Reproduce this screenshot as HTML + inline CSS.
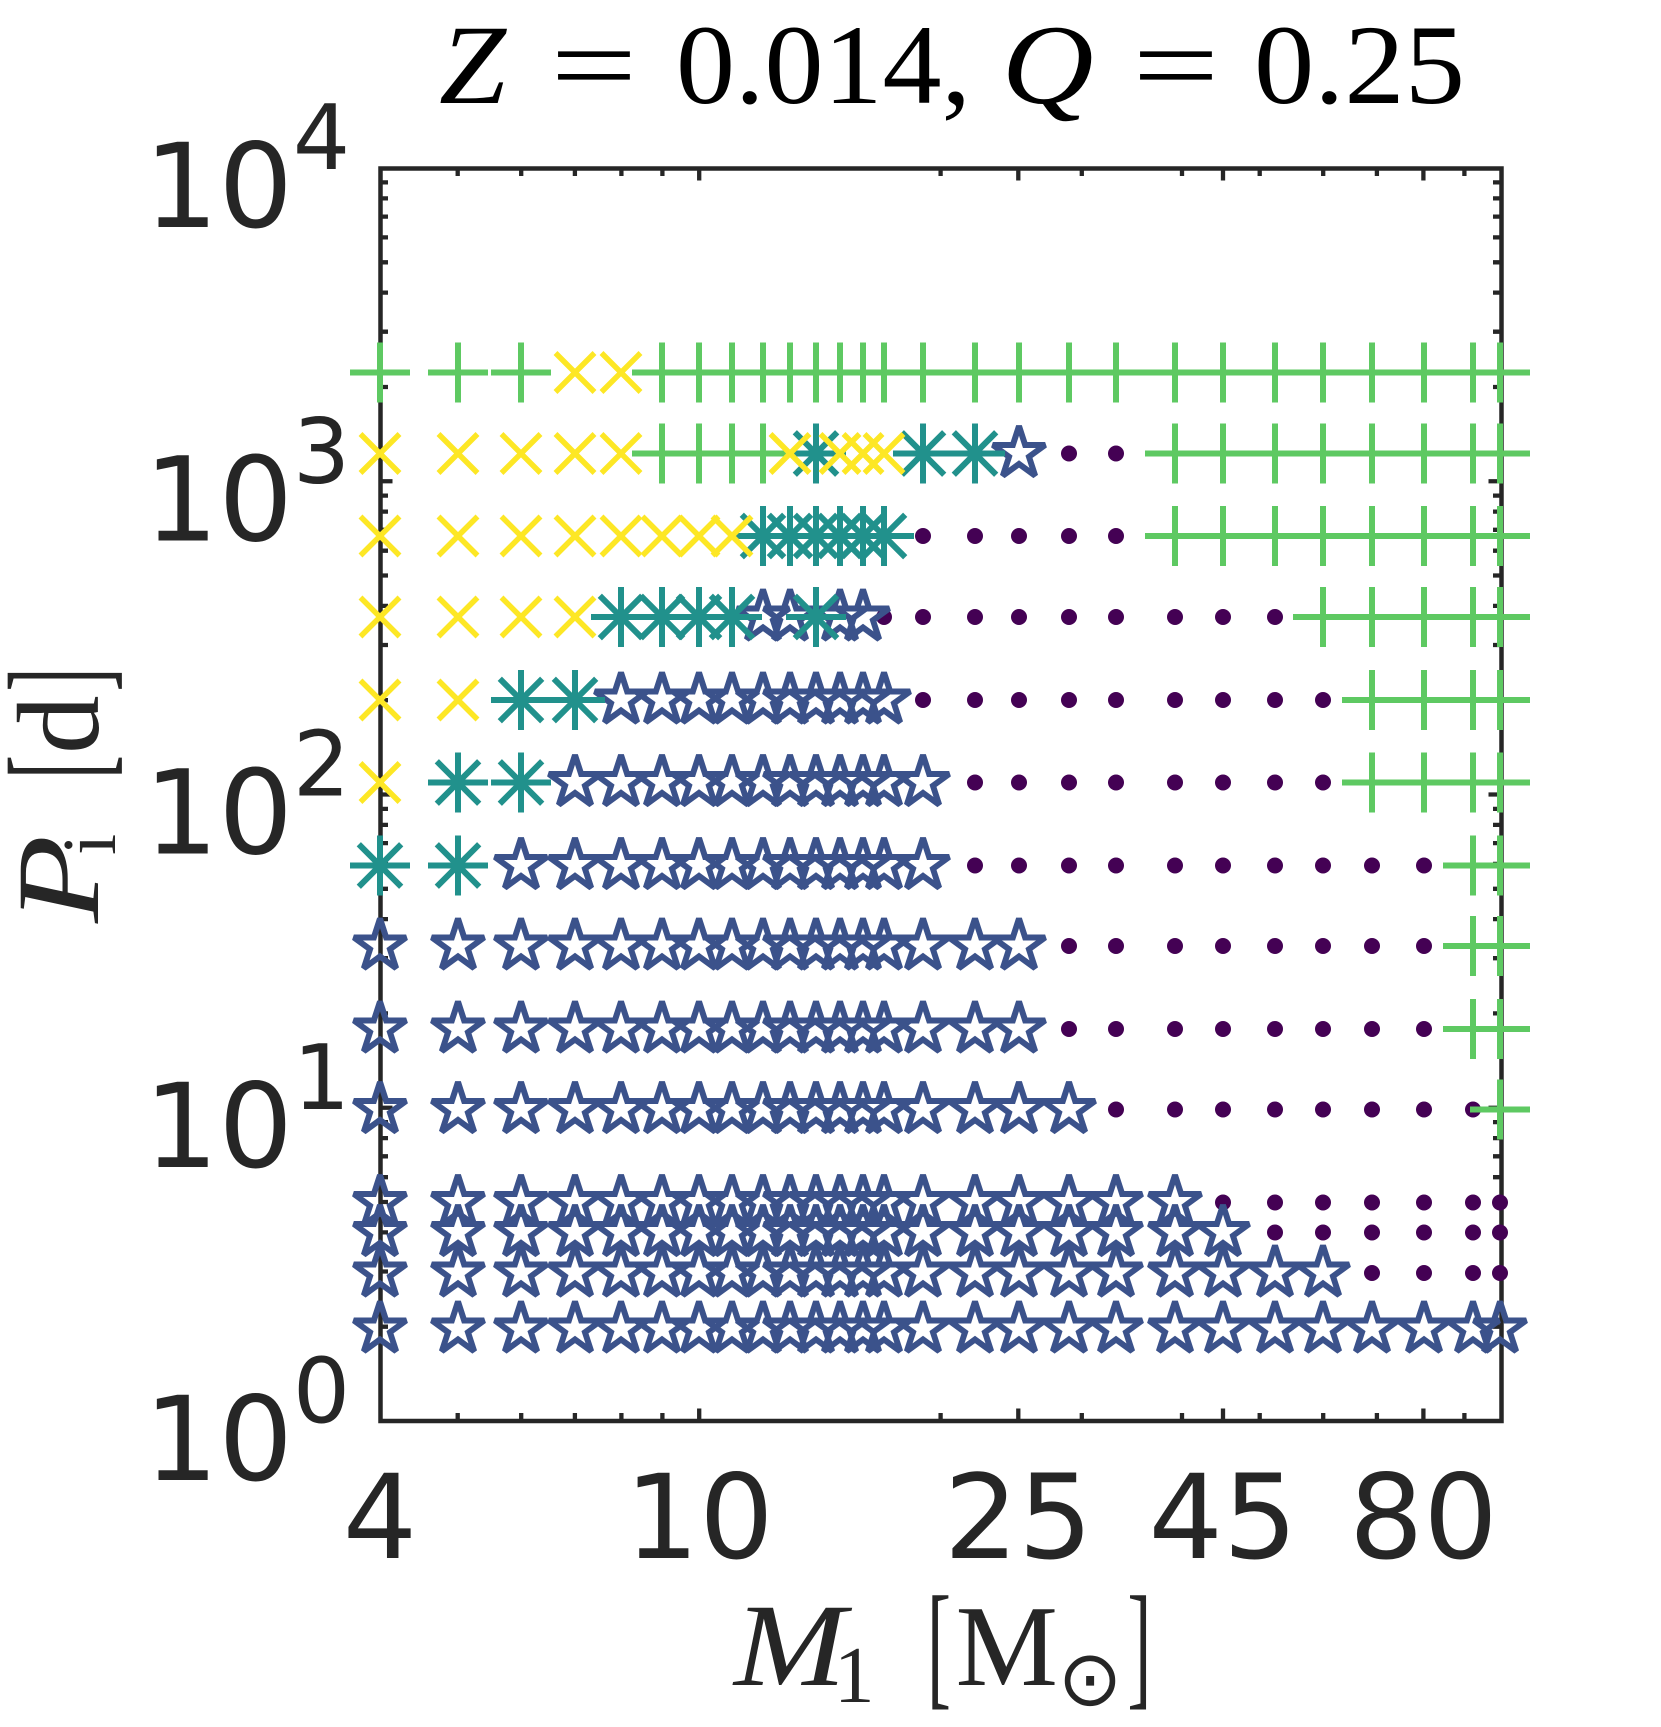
<!DOCTYPE html>
<html><head><meta charset="utf-8"><style>html,body{margin:0;padding:0;background:#fff}svg{display:block}</style></head><body>
<svg width="1661" height="1727" viewBox="0 0 1661 1727" xmlns="http://www.w3.org/2000/svg">
<rect width="1661" height="1727" fill="#fff"/>
<defs>
<path id="P" d="M-30 0H30M0-30V30" stroke="#5ec962" stroke-width="6" fill="none"/>
<path id="X" d="M-19.5-19.5L19.5 19.5M-19.5 19.5L19.5-19.5" stroke="#fde725" stroke-width="5.5" fill="none"/>
<path id="A" d="M-30 0H30M0-30V30M-21.2-21.2L21.2 21.2M-21.2 21.2L21.2-21.2" stroke="#21918c" stroke-width="6" fill="none"/>
<path id="S" d="M0-27.5L6.16-8.48L26.15-8.5L9.98 3.24L16.16 22.25L0 10.5L-16.16 22.25L-9.98 3.24L-26.15-8.5L-6.16-8.48Z" fill="none" stroke="#3b528b" stroke-width="6" stroke-linejoin="miter" stroke-miterlimit="2"/>
<circle id="D" r="8" fill="#440154"/>
</defs>

<!-- axes box -->
<rect x="380.5" y="168.5" width="1121" height="1252.5" fill="none" stroke="#262626" stroke-width="4.5"/>
<!-- ticks -->
<path fill="none" stroke="#262626" stroke-width="4.3" d="
M380 1107.75h12.5M380 794.5h12.5M380 481.25h12.5
M1501 1107.75h-12.5M1501 794.5h-12.5M1501 481.25h-12.5
M380 1326.7h8M380 1271.5h8M380 1232.4h8M380 1202h8M380 1177.2h8M380 1156.3h8M380 1138.1h8M380 1122.1h8
M380 1013.4h8M380 958.2h8M380 919.1h8M380 888.8h8M380 863.9h8M380 843.1h8M380 824.9h8M380 808.9h8
M380 700.2h8M380 645h8M380 605.9h8M380 575.5h8M380 550.7h8M380 529.8h8M380 511.6h8M380 495.6h8
M380 387h8M380 331.7h8M380 292.6h8M380 262.3h8M380 237.4h8M380 216.6h8M380 198.4h8M380 182.4h8
M1501 1326.7h-8M1501 1271.5h-8M1501 1232.4h-8M1501 1202h-8M1501 1177.2h-8M1501 1156.3h-8M1501 1138.1h-8M1501 1122.1h-8
M1501 1013.4h-8M1501 958.2h-8M1501 919.1h-8M1501 888.8h-8M1501 863.9h-8M1501 843.1h-8M1501 824.9h-8M1501 808.9h-8
M1501 700.2h-8M1501 645h-8M1501 605.9h-8M1501 575.5h-8M1501 550.7h-8M1501 529.8h-8M1501 511.6h-8M1501 495.6h-8
M1501 387h-8M1501 331.7h-8M1501 292.6h-8M1501 262.3h-8M1501 237.4h-8M1501 216.6h-8M1501 198.4h-8M1501 182.4h-8
M699.2 1421v-12.5M1018.3 1421v-12.5M1223 1421v-12.5M1423.4 1421v-12.5
M699.2 168v12.5M1018.3 168v12.5M1223 168v12.5M1423.4 168v12.5
M457.7 1421v-8M521.2 1421v-8M574.9 1421v-8M621.4 1421v-8M662.4 1421v-8M940.6 1421v-8M1081.8 1421v-8M1182 1421v-8M1259.7 1421v-8M1323.2 1421v-8M1376.9 1421v-8M1464.4 1421v-8
M457.7 168v8M521.2 168v8M574.9 168v8M621.4 168v8M662.4 168v8M940.6 168v8M1081.8 168v8M1182 168v8M1259.7 168v8M1323.2 168v8M1376.9 168v8M1464.4 168v8
"/>

<!-- D: dots -->
<g transform="translate(0 453.5)"><use href="#D" x="1069"/><use href="#D" x="1116"/></g>
<g transform="translate(0 536)"><use href="#D" x="923"/><use href="#D" x="975"/><use href="#D" x="1019"/><use href="#D" x="1069"/><use href="#D" x="1116"/></g>
<g transform="translate(0 617)"><use href="#D" x="884"/><use href="#D" x="923"/><use href="#D" x="975"/><use href="#D" x="1019"/><use href="#D" x="1069"/><use href="#D" x="1116"/><use href="#D" x="1175"/><use href="#D" x="1223"/><use href="#D" x="1275"/></g>
<g transform="translate(0 700)"><use href="#D" x="923"/><use href="#D" x="975"/><use href="#D" x="1019"/><use href="#D" x="1069"/><use href="#D" x="1116"/><use href="#D" x="1175"/><use href="#D" x="1223"/><use href="#D" x="1275"/><use href="#D" x="1323"/></g>
<g transform="translate(0 782.5)"><use href="#D" x="975"/><use href="#D" x="1019"/><use href="#D" x="1069"/><use href="#D" x="1116"/><use href="#D" x="1175"/><use href="#D" x="1223"/><use href="#D" x="1275"/><use href="#D" x="1323"/></g>
<g transform="translate(0 865.5)"><use href="#D" x="975"/><use href="#D" x="1019"/><use href="#D" x="1069"/><use href="#D" x="1116"/><use href="#D" x="1175"/><use href="#D" x="1223"/><use href="#D" x="1275"/><use href="#D" x="1323"/><use href="#D" x="1372"/><use href="#D" x="1424"/></g>
<g transform="translate(0 946)"><use href="#D" x="1069"/><use href="#D" x="1116"/><use href="#D" x="1175"/><use href="#D" x="1223"/><use href="#D" x="1275"/><use href="#D" x="1323"/><use href="#D" x="1372"/><use href="#D" x="1424"/></g>
<g transform="translate(0 1029)"><use href="#D" x="1069"/><use href="#D" x="1116"/><use href="#D" x="1175"/><use href="#D" x="1223"/><use href="#D" x="1275"/><use href="#D" x="1323"/><use href="#D" x="1372"/><use href="#D" x="1424"/></g>
<g transform="translate(0 1109.5)"><use href="#D" x="1116"/><use href="#D" x="1175"/><use href="#D" x="1223"/><use href="#D" x="1275"/><use href="#D" x="1323"/><use href="#D" x="1372"/><use href="#D" x="1424"/><use href="#D" x="1473"/></g>
<g transform="translate(0 1202.5)"><use href="#D" x="1223"/><use href="#D" x="1275"/><use href="#D" x="1323"/><use href="#D" x="1372"/><use href="#D" x="1424"/><use href="#D" x="1473"/><use href="#D" x="1500"/></g>
<g transform="translate(0 1232.5)"><use href="#D" x="1275"/><use href="#D" x="1323"/><use href="#D" x="1372"/><use href="#D" x="1424"/><use href="#D" x="1473"/><use href="#D" x="1500"/></g>
<g transform="translate(0 1273)"><use href="#D" x="1372"/><use href="#D" x="1424"/><use href="#D" x="1473"/><use href="#D" x="1500"/></g>

<!-- S: stars -->
<g transform="translate(0 453.5)"><use href="#S" x="1019"/></g>
<g transform="translate(0 617)"><use href="#S" x="763"/><use href="#S" x="790"/><use href="#S" x="840"/><use href="#S" x="863"/></g>
<g transform="translate(0 700)"><use href="#S" x="621"/><use href="#S" x="662"/><use href="#S" x="699"/><use href="#S" x="732"/><use href="#S" x="763"/><use href="#S" x="790"/><use href="#S" x="816"/><use href="#S" x="840"/><use href="#S" x="863"/><use href="#S" x="884"/></g>
<g transform="translate(0 782.5)"><use href="#S" x="575"/><use href="#S" x="621"/><use href="#S" x="662"/><use href="#S" x="699"/><use href="#S" x="732"/><use href="#S" x="763"/><use href="#S" x="790"/><use href="#S" x="816"/><use href="#S" x="840"/><use href="#S" x="863"/><use href="#S" x="884"/><use href="#S" x="923"/></g>
<g transform="translate(0 865.5)"><use href="#S" x="521"/><use href="#S" x="575"/><use href="#S" x="621"/><use href="#S" x="662"/><use href="#S" x="699"/><use href="#S" x="732"/><use href="#S" x="763"/><use href="#S" x="790"/><use href="#S" x="816"/><use href="#S" x="840"/><use href="#S" x="863"/><use href="#S" x="884"/><use href="#S" x="923"/></g>
<g transform="translate(0 946)"><use href="#S" x="380"/><use href="#S" x="458"/><use href="#S" x="521"/><use href="#S" x="575"/><use href="#S" x="621"/><use href="#S" x="662"/><use href="#S" x="699"/><use href="#S" x="732"/><use href="#S" x="763"/><use href="#S" x="790"/><use href="#S" x="816"/><use href="#S" x="840"/><use href="#S" x="863"/><use href="#S" x="884"/><use href="#S" x="923"/><use href="#S" x="975"/><use href="#S" x="1019"/></g>
<g transform="translate(0 1029)"><use href="#S" x="380"/><use href="#S" x="458"/><use href="#S" x="521"/><use href="#S" x="575"/><use href="#S" x="621"/><use href="#S" x="662"/><use href="#S" x="699"/><use href="#S" x="732"/><use href="#S" x="763"/><use href="#S" x="790"/><use href="#S" x="816"/><use href="#S" x="840"/><use href="#S" x="863"/><use href="#S" x="884"/><use href="#S" x="923"/><use href="#S" x="975"/><use href="#S" x="1019"/></g>
<g transform="translate(0 1109.5)"><use href="#S" x="380"/><use href="#S" x="458"/><use href="#S" x="521"/><use href="#S" x="575"/><use href="#S" x="621"/><use href="#S" x="662"/><use href="#S" x="699"/><use href="#S" x="732"/><use href="#S" x="763"/><use href="#S" x="790"/><use href="#S" x="816"/><use href="#S" x="840"/><use href="#S" x="863"/><use href="#S" x="884"/><use href="#S" x="923"/><use href="#S" x="975"/><use href="#S" x="1019"/><use href="#S" x="1069"/></g>
<g transform="translate(0 1202.5)"><use href="#S" x="380"/><use href="#S" x="458"/><use href="#S" x="521"/><use href="#S" x="575"/><use href="#S" x="621"/><use href="#S" x="662"/><use href="#S" x="699"/><use href="#S" x="732"/><use href="#S" x="763"/><use href="#S" x="790"/><use href="#S" x="816"/><use href="#S" x="840"/><use href="#S" x="863"/><use href="#S" x="884"/><use href="#S" x="923"/><use href="#S" x="975"/><use href="#S" x="1019"/><use href="#S" x="1069"/><use href="#S" x="1116"/><use href="#S" x="1175"/></g>
<g transform="translate(0 1232.5)"><use href="#S" x="380"/><use href="#S" x="458"/><use href="#S" x="521"/><use href="#S" x="575"/><use href="#S" x="621"/><use href="#S" x="662"/><use href="#S" x="699"/><use href="#S" x="732"/><use href="#S" x="763"/><use href="#S" x="790"/><use href="#S" x="816"/><use href="#S" x="840"/><use href="#S" x="863"/><use href="#S" x="884"/><use href="#S" x="923"/><use href="#S" x="975"/><use href="#S" x="1019"/><use href="#S" x="1069"/><use href="#S" x="1116"/><use href="#S" x="1175"/><use href="#S" x="1223"/></g>
<g transform="translate(0 1273)"><use href="#S" x="380"/><use href="#S" x="458"/><use href="#S" x="521"/><use href="#S" x="575"/><use href="#S" x="621"/><use href="#S" x="662"/><use href="#S" x="699"/><use href="#S" x="732"/><use href="#S" x="763"/><use href="#S" x="790"/><use href="#S" x="816"/><use href="#S" x="840"/><use href="#S" x="863"/><use href="#S" x="884"/><use href="#S" x="923"/><use href="#S" x="975"/><use href="#S" x="1019"/><use href="#S" x="1069"/><use href="#S" x="1116"/><use href="#S" x="1175"/><use href="#S" x="1223"/><use href="#S" x="1275"/><use href="#S" x="1323"/></g>
<g transform="translate(0 1329)"><use href="#S" x="380"/><use href="#S" x="458"/><use href="#S" x="521"/><use href="#S" x="575"/><use href="#S" x="621"/><use href="#S" x="662"/><use href="#S" x="699"/><use href="#S" x="732"/><use href="#S" x="763"/><use href="#S" x="790"/><use href="#S" x="816"/><use href="#S" x="840"/><use href="#S" x="863"/><use href="#S" x="884"/><use href="#S" x="923"/><use href="#S" x="975"/><use href="#S" x="1019"/><use href="#S" x="1069"/><use href="#S" x="1116"/><use href="#S" x="1175"/><use href="#S" x="1223"/><use href="#S" x="1275"/><use href="#S" x="1323"/><use href="#S" x="1372"/><use href="#S" x="1424"/><use href="#S" x="1473"/><use href="#S" x="1500"/></g>

<!-- A: asterisks -->
<g transform="translate(0 453.5)"><use href="#A" x="816"/><use href="#A" x="923"/><use href="#A" x="975"/></g>
<g transform="translate(0 536)"><use href="#A" x="763"/><use href="#A" x="790"/><use href="#A" x="816"/><use href="#A" x="840"/><use href="#A" x="863"/><use href="#A" x="884"/></g>
<g transform="translate(0 617)"><use href="#A" x="621"/><use href="#A" x="662"/><use href="#A" x="699"/><use href="#A" x="732"/><use href="#A" x="816"/></g>
<g transform="translate(0 700)"><use href="#A" x="521"/><use href="#A" x="575"/></g>
<g transform="translate(0 782.5)"><use href="#A" x="458"/><use href="#A" x="521"/></g>
<g transform="translate(0 865.5)"><use href="#A" x="380"/><use href="#A" x="458"/></g>

<!-- P: plus -->
<g transform="translate(0 372.5)"><use href="#P" x="380"/><use href="#P" x="458"/><use href="#P" x="521"/><use href="#P" x="662"/><use href="#P" x="699"/><use href="#P" x="732"/><use href="#P" x="763"/><use href="#P" x="790"/><use href="#P" x="816"/><use href="#P" x="840"/><use href="#P" x="863"/><use href="#P" x="884"/><use href="#P" x="923"/><use href="#P" x="975"/><use href="#P" x="1019"/><use href="#P" x="1069"/><use href="#P" x="1116"/><use href="#P" x="1175"/><use href="#P" x="1223"/><use href="#P" x="1275"/><use href="#P" x="1323"/><use href="#P" x="1372"/><use href="#P" x="1424"/><use href="#P" x="1473"/><use href="#P" x="1500"/></g>
<g transform="translate(0 453.5)"><use href="#P" x="662"/><use href="#P" x="699"/><use href="#P" x="732"/><use href="#P" x="763"/><use href="#P" x="1175"/><use href="#P" x="1223"/><use href="#P" x="1275"/><use href="#P" x="1323"/><use href="#P" x="1372"/><use href="#P" x="1424"/><use href="#P" x="1473"/><use href="#P" x="1500"/></g>
<g transform="translate(0 536)"><use href="#P" x="1175"/><use href="#P" x="1223"/><use href="#P" x="1275"/><use href="#P" x="1323"/><use href="#P" x="1372"/><use href="#P" x="1424"/><use href="#P" x="1473"/><use href="#P" x="1500"/></g>
<g transform="translate(0 617)"><use href="#P" x="1323"/><use href="#P" x="1372"/><use href="#P" x="1424"/><use href="#P" x="1473"/><use href="#P" x="1500"/></g>
<g transform="translate(0 700)"><use href="#P" x="1372"/><use href="#P" x="1424"/><use href="#P" x="1473"/><use href="#P" x="1500"/></g>
<g transform="translate(0 782.5)"><use href="#P" x="1372"/><use href="#P" x="1424"/><use href="#P" x="1473"/><use href="#P" x="1500"/></g>
<g transform="translate(0 865.5)"><use href="#P" x="1473"/><use href="#P" x="1500"/></g>
<g transform="translate(0 946)"><use href="#P" x="1473"/><use href="#P" x="1500"/></g>
<g transform="translate(0 1029)"><use href="#P" x="1473"/><use href="#P" x="1500"/></g>
<g transform="translate(0 1109.5)"><use href="#P" x="1500"/></g>

<!-- X: crosses -->
<g transform="translate(0 372.5)"><use href="#X" x="575"/><use href="#X" x="621"/></g>
<g transform="translate(0 453.5)"><use href="#X" x="380"/><use href="#X" x="458"/><use href="#X" x="521"/><use href="#X" x="575"/><use href="#X" x="621"/><use href="#X" x="790"/><use href="#X" x="840"/><use href="#X" x="863"/><use href="#X" x="884"/></g>
<g transform="translate(0 536)"><use href="#X" x="380"/><use href="#X" x="458"/><use href="#X" x="521"/><use href="#X" x="575"/><use href="#X" x="621"/><use href="#X" x="662"/><use href="#X" x="699"/><use href="#X" x="732"/></g>
<g transform="translate(0 617)"><use href="#X" x="380"/><use href="#X" x="458"/><use href="#X" x="521"/><use href="#X" x="575"/></g>
<g transform="translate(0 700)"><use href="#X" x="380"/><use href="#X" x="458"/></g>
<g transform="translate(0 782.5)"><use href="#X" x="380"/></g>

<!-- Y tick labels -->
<g font-family="DejaVu Sans, sans-serif" fill="#262626" font-size="117">
<text x="144" y="1480">10<tspan dy="-58" font-size="90">0</tspan></text>
<text x="144" y="1166.75">10<tspan dy="-58" font-size="90">1</tspan></text>
<text x="144" y="853.5">10<tspan dy="-58" font-size="90">2</tspan></text>
<text x="144" y="540.25">10<tspan dy="-58" font-size="90">3</tspan></text>
<text x="144" y="227">10<tspan dy="-58" font-size="90">4</tspan></text>
</g>
<!-- X tick labels -->
<g font-family="DejaVu Sans, sans-serif" fill="#262626" font-size="117" text-anchor="middle">
<text x="380" y="1558">4</text>
<text x="699.2" y="1558">10</text>
<text x="1018.3" y="1558">25</text>
<text x="1223" y="1558">45</text>
<text x="1423.4" y="1558">80</text>
</g>

<!-- Title -->
<g font-family="Liberation Serif, serif" fill="#000" font-size="113">
<text x="439" y="103" font-style="italic" textLength="67" lengthAdjust="spacingAndGlyphs">Z</text>
<text x="550.4" y="103" textLength="87" lengthAdjust="spacingAndGlyphs">=</text>
<text x="676" y="103" textLength="295" lengthAdjust="spacingAndGlyphs">0.014,</text>
<text x="1001.7" y="103" font-style="italic" textLength="92" lengthAdjust="spacingAndGlyphs">Q</text>
<text x="1132.4" y="103" textLength="87" lengthAdjust="spacingAndGlyphs">=</text>
<text x="1254" y="103" textLength="211" lengthAdjust="spacingAndGlyphs">0.25</text>
</g>

<!-- X label -->
<g font-family="Liberation Serif, serif" fill="#262626">
<text x="734" y="1685" font-size="118" font-style="italic" textLength="112" lengthAdjust="spacingAndGlyphs">M</text>
<text x="834" y="1702" font-size="81">1</text>
<text x="927" y="1691" font-size="138" textLength="24" lengthAdjust="spacingAndGlyphs">[</text>
<text x="955.6" y="1685" font-size="115">M</text>
<text x="1090" y="1705" font-size="77" font-family="DejaVu Sans, sans-serif" text-anchor="middle">⊙</text>
<text x="1127.4" y="1691" font-size="138" textLength="24" lengthAdjust="spacingAndGlyphs">]</text>
</g>

<!-- Y label -->
<g transform="translate(98 923) rotate(-90)" font-family="Liberation Serif, serif" fill="#262626">
<text x="0" y="0" font-size="118" font-style="italic" textLength="88" lengthAdjust="spacingAndGlyphs">P</text>
<text x="68" y="17" font-size="76">i</text>
<text x="144" y="5.4" font-size="138" textLength="24" lengthAdjust="spacingAndGlyphs">[</text>
<text x="169" y="0" font-size="117">d</text>
<text x="231.5" y="5.4" font-size="138" textLength="24" lengthAdjust="spacingAndGlyphs">]</text>
</g>
</svg>
</body></html>
